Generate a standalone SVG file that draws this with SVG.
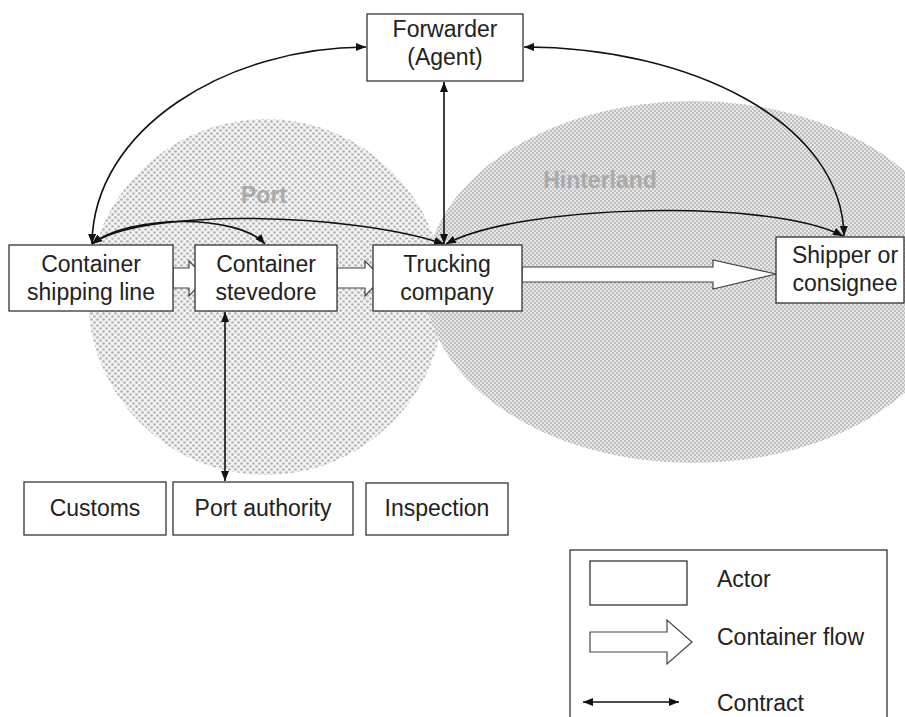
<svg xmlns="http://www.w3.org/2000/svg" width="905" height="717" viewBox="0 0 905 717">
  <style>
    .box { fill: #ffffff; stroke: #333333; stroke-width: 1.3; }
    .lbl { font-family: "Liberation Sans", Arial, sans-serif; font-size: 23px; fill: #222222; text-anchor: middle; }
    .leg { font-family: "Liberation Sans", Arial, sans-serif; font-size: 23px; fill: #222222; }
    .region { font-family: "Liberation Sans", Arial, sans-serif; font-size: 23px; font-weight: bold; fill: #aaaaaa; text-anchor: middle; }
    .contract { fill: none; stroke: #111111; stroke-width: 1.6; marker-start: url(#ah); marker-end: url(#ah); }
    .flow { fill: #ffffff; stroke: #444444; stroke-width: 1.2; stroke-linejoin: miter; }
  </style>
  <defs>
    <pattern id="dots" width="6" height="6" patternUnits="userSpaceOnUse">
      <rect width="6" height="6" fill="#f2f2f2"/>
      <circle cx="1.5" cy="1.5" r="1.35" fill="#b4b4b4"/>
      <circle cx="4.5" cy="4.5" r="1.35" fill="#b4b4b4"/>
    </pattern>
    <pattern id="checker" width="4" height="4" patternUnits="userSpaceOnUse">
      <rect width="4" height="4" fill="#e8e8e8"/>
      <rect x="0" y="0" width="2" height="2" fill="#bfbfbf"/>
      <rect x="2" y="2" width="2" height="2" fill="#bfbfbf"/>
    </pattern>
    <marker id="ah" viewBox="0 0 10 8" refX="10" refY="4" markerWidth="10" markerHeight="8" markerUnits="userSpaceOnUse" orient="auto-start-reverse">
      <path d="M0,0 L10,4 L0,8 z" fill="#111111"/>
    </marker>
  </defs>

  <rect width="905" height="717" fill="#ffffff"/>

  <g id="regions">
    <circle id="port-area" cx="266" cy="297" r="178" fill="url(#dots)"/>
    <ellipse id="hinterland-area" cx="693" cy="282" rx="268" ry="181" fill="url(#checker)"/>
    <text class="region" x="264" y="203">Port</text>
    <text class="region" x="600" y="188">Hinterland</text>
  </g>

  <g id="flows">
    <polygon class="flow" points="173,268 189,268 189,261 206,278 189,296 189,288 173,288"/>
    <polygon class="flow" points="337,268 365,268 365,261 382,278 365,296 365,288 337,288"/>
    <polygon class="flow" points="522,267 713,267 713,260 776,274 713,289 713,282 522,282"/>
  </g>

  <g id="connectors">
    <path class="contract" d="M92,244 C93,128 228,47 366,47"/>
    <path class="contract" d="M844,236 C842,122 690,47 524,47"/>
    <path class="contract" d="M444,244 L444,82"/>
    <path class="contract" d="M92,244 C130,214 238,214 265,244"/>
    <path class="contract" d="M92,244 C140,208 350,212 444,244"/>
    <path class="contract" d="M446,244 C520,204 770,198 843,236"/>
    <path class="contract" d="M225,312 L225,481"/>
  </g>

  <g id="forwarder">
    <rect class="box" x="367" y="14" width="156" height="67"/>
    <text class="lbl" x="445" y="37">Forwarder</text>
    <text class="lbl" x="445" y="65">(Agent)</text>
  </g>
  <g id="shipping-line">
    <rect class="box" x="9" y="245" width="164" height="66"/>
    <text class="lbl" x="91" y="272">Container</text>
    <text class="lbl" x="91" y="300">shipping line</text>
  </g>
  <g id="stevedore">
    <rect class="box" x="195" y="245" width="142" height="66"/>
    <text class="lbl" x="266" y="272">Container</text>
    <text class="lbl" x="266" y="300">stevedore</text>
  </g>
  <g id="trucking">
    <rect class="box" x="373" y="245" width="149" height="66"/>
    <text class="lbl" x="447" y="272">Trucking</text>
    <text class="lbl" x="447" y="300">company</text>
  </g>
  <g id="shipper">
    <rect class="box" x="776" y="237" width="128" height="66"/>
    <text class="lbl" x="845" y="263">Shipper or</text>
    <text class="lbl" x="845" y="291">consignee</text>
  </g>
  <g id="customs">
    <rect class="box" x="24" y="482" width="142" height="53"/>
    <text class="lbl" x="95" y="516">Customs</text>
  </g>
  <g id="port-authority">
    <rect class="box" x="173" y="482" width="180" height="53"/>
    <text class="lbl" x="263" y="516">Port authority</text>
  </g>
  <g id="inspection">
    <rect class="box" x="366" y="483" width="142" height="52"/>
    <text class="lbl" x="437" y="516">Inspection</text>
  </g>

  <g id="legend">
    <rect x="570" y="550" width="317" height="200" fill="#ffffff" stroke="#333333" stroke-width="1.3"/>
    <rect class="box" x="590" y="561" width="97" height="44"/>
    <text class="leg" x="717" y="587">Actor</text>
    <polygon class="flow" points="590,632 667,632 667,620 692,642 667,664 667,652 590,652"/>
    <text class="leg" x="717" y="645">Container flow</text>
    <path class="contract" d="M583,702 L679,702"/>
    <text class="leg" x="717" y="711">Contract</text>
  </g>
</svg>
